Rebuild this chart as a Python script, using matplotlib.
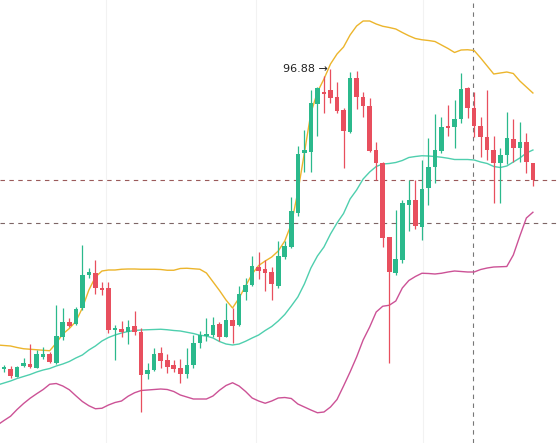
import numpy as np
import matplotlib
matplotlib.use('Agg')
import matplotlib.pyplot as plt

# candle data (price units)
opens = [84.88, 84.88, 84.57, 85.00, 85.07, 84.93, 85.37, 85.47, 85.13, 86.17,
         86.76, 86.68, 87.31, 88.64, 88.71, 88.13, 88.11, 86.44, 86.48, 86.35,
         86.59, 86.36, 84.67, 84.84, 85.51, 85.24, 85.03, 84.93, 84.68, 85.04,
         85.93, 86.20, 86.24, 86.68, 86.17, 86.84, 86.64, 87.97, 88.24, 88.95,
         88.88, 88.75, 88.20, 89.37, 89.75, 91.13, 93.51, 93.57, 95.48, 95.97,
         96.04, 95.77, 95.24, 94.37, 96.53, 95.75, 95.40, 93.64, 93.13, 90.15,
         88.73, 89.24, 91.44, 91.64, 90.57, 92.11, 92.95, 93.61, 94.60, 94.57,
         94.87, 96.11, 95.31, 94.60, 94.15, 93.64, 93.11, 93.44, 94.07, 93.71,
         93.97, 93.13]
highs = [85.04, 85.00, 85.00, 85.32, 85.88, 85.64, 85.77, 85.57, 87.44, 87.32,
         86.92, 87.36, 89.84, 88.92, 89.24, 88.37, 88.37, 86.64, 86.80, 86.84,
         87.20, 86.51, 85.11, 85.73, 85.77, 85.47, 85.24, 85.28, 85.71, 86.24,
         86.41, 86.91, 86.97, 86.76, 87.51, 87.31, 88.20, 88.51, 89.40, 89.57,
         89.24, 88.95, 90.00, 90.01, 91.77, 93.80, 94.44, 96.04, 96.17, 96.60,
         96.88, 96.37, 95.31, 96.77, 96.81, 95.97, 95.71, 93.97, 93.17, 90.17,
         91.24, 91.64, 92.44, 92.44, 93.24, 94.11, 95.08, 94.95, 95.44, 95.64,
         96.71, 96.16, 95.97, 94.97, 96.04, 94.20, 93.71, 95.17, 94.87, 94.77,
         94.31, 93.13]
lows = [84.76, 84.52, 84.54, 84.96, 84.92, 84.92, 85.28, 85.13, 85.08, 86.04,
        86.56, 86.64, 87.24, 88.52, 87.88, 87.84, 86.33, 85.24, 86.17, 85.88,
        86.24, 83.17, 84.47, 84.81, 84.91, 84.73, 84.77, 84.31, 84.51, 84.91,
        85.71, 86.01, 86.17, 86.01, 86.15, 85.93, 86.60, 87.64, 88.20, 88.47,
        88.01, 87.64, 88.11, 89.28, 89.71, 91.00, 92.77, 92.77, 94.20, 95.11,
        95.51, 95.11, 92.91, 94.31, 95.27, 94.97, 93.57, 92.44, 89.77, 85.11,
        88.64, 89.13, 90.41, 90.47, 90.04, 91.44, 92.31, 93.51, 94.20, 93.71,
        94.71, 94.91, 94.17, 93.37, 93.24, 91.53, 91.53, 93.08, 93.17, 93.17,
        92.71, 92.20]
closes = [84.96, 84.60, 84.97, 85.11, 84.96, 85.47, 85.48, 85.17, 86.20, 86.77,
          86.61, 87.28, 88.64, 88.77, 88.11, 88.04, 86.44, 86.48, 86.35, 86.55,
          86.37, 84.64, 84.84, 85.48, 85.21, 84.97, 84.89, 84.68, 85.04, 85.91,
          86.24, 86.28, 86.64, 86.15, 86.84, 86.61, 87.88, 88.24, 89.00, 88.81,
          88.73, 88.28, 89.40, 89.81, 91.20, 93.48, 93.64, 95.51, 96.11, 95.87,
          95.71, 95.21, 94.41, 96.53, 95.77, 95.40, 93.61, 93.13, 90.11, 88.77,
          89.27, 91.51, 91.64, 90.60, 92.07, 92.95, 93.64, 94.55, 94.53, 94.87,
          96.07, 95.31, 94.60, 94.15, 93.64, 93.11, 93.44, 94.11, 93.71, 93.97,
          93.17, 92.44]

# bollinger bands, first value belongs to the bar before the first visible candle
band_start = -1
upper = [85.84, 85.82, 85.80, 85.74, 85.69, 85.67, 85.65, 85.63, 85.61, 85.92,
         86.28, 86.50, 86.78, 87.32, 88.04, 88.56, 88.80, 88.84, 88.84, 88.87,
         88.88, 88.88, 88.87, 88.87, 88.87, 88.86, 88.83, 88.83, 88.90, 88.91,
         88.89, 88.87, 88.72, 88.37, 88.02, 87.64, 87.32, 87.72, 88.20, 88.68,
         89.02, 89.20, 89.36, 89.60, 90.00, 90.68, 91.96, 93.52, 95.12, 95.96,
         96.48, 97.08, 97.48, 97.76, 98.24, 98.60, 98.80, 98.80, 98.68, 98.59,
         98.54, 98.48, 98.34, 98.21, 98.10, 98.05, 98.02, 97.98, 97.84, 97.70,
         97.54, 97.64, 97.65, 97.62, 97.32, 97.00, 96.68, 96.72, 96.76, 96.70,
         96.40, 96.16, 95.92]
middle = [84.24, 84.32, 84.40, 84.50, 84.58, 84.66, 84.76, 84.84, 84.90, 85.00,
          85.08, 85.18, 85.32, 85.44, 85.64, 85.80, 86.00, 86.14, 86.24, 86.32,
          86.38, 86.42, 86.44, 86.45, 86.46, 86.47, 86.45, 86.42, 86.40, 86.35,
          86.30, 86.23, 86.20, 86.12, 85.98, 85.88, 85.84, 85.88, 85.99, 86.12,
          86.24, 86.42, 86.58, 86.80, 87.06, 87.40, 87.76, 88.28, 88.92, 89.40,
          89.76, 90.28, 90.72, 91.10, 91.68, 92.04, 92.48, 92.76, 92.98, 93.08,
          93.10, 93.14, 93.22, 93.34, 93.38, 93.41, 93.40, 93.38, 93.35, 93.31,
          93.26, 93.26, 93.26, 93.24, 93.16, 93.10, 92.98, 92.94, 93.00, 93.16,
          93.32, 93.52, 93.64]
lower = [82.64, 82.82, 82.99, 83.26, 83.50, 83.71, 83.89, 84.06, 84.27, 84.30,
         84.20, 84.05, 83.81, 83.58, 83.41, 83.29, 83.31, 83.44, 83.54, 83.60,
         83.79, 83.93, 84.02, 84.04, 84.06, 84.08, 84.06, 83.98, 83.84, 83.76,
         83.68, 83.68, 83.68, 83.80, 84.03, 84.22, 84.33, 84.20, 83.98, 83.72,
         83.60, 83.51, 83.60, 83.72, 83.74, 83.70, 83.48, 83.36, 83.24, 83.13,
         83.16, 83.36, 83.66, 84.20, 84.76, 85.36, 86.04, 86.56, 87.16, 87.39,
         87.43, 87.60, 88.12, 88.42, 88.58, 88.71, 88.70, 88.68, 88.71, 88.76,
         88.80, 88.78, 88.76, 88.76, 88.86, 88.92, 88.96, 88.97, 88.98, 89.44,
         90.20, 90.92, 91.15]

level_line = 90.72
crosshair_idx = 71.9

UP = '#2bb98c'
DOWN = '#e84f5e'

o = np.array(opens)
h = np.array(highs)
l = np.array(lows)
c = np.array(closes)
idx = np.arange(len(o))
up = c >= o

fig = plt.figure(figsize=(5.57, 4.43), dpi=100)
ax = fig.add_axes([0, 0, 1, 1])

# faint grid
for gx in [15.6, 38.6, 64.2]:
    ax.axvline(gx, color='#f2f2f2', lw=0.8, zorder=0)

# bands
bx = np.arange(band_start, band_start + len(upper))
ax.plot(bx, upper, color='#ecb52c', lw=1.0, zorder=2)
ax.plot(bx, middle, color='#4fcfae', lw=1.0, zorder=2)
ax.plot(bx, lower, color='#cc5296', lw=1.0, zorder=2)

# candles
colors = np.where(up, UP, DOWN)
ax.vlines(idx, l, h, colors=colors, lw=0.9, zorder=3)
body_lo = np.minimum(o, c)
body_h = np.maximum(np.abs(c - o), 0.06)
ax.bar(idx, body_h, bottom=body_lo, width=0.7, color=colors, linewidth=0, zorder=4)

# last price / level / crosshair lines
ax.axhline(closes[-1], color='#9a5a5a', lw=0.8, ls=(0, (4, 4)), zorder=1)
ax.axhline(level_line, color='#7d6565', lw=0.8, ls=(0, (4, 4)), zorder=1)
ax.axvline(crosshair_idx, color='#777777', lw=0.8, ls=(0, (4, 4)), zorder=1)

# max high label
imax = int(np.argmax(h))
ax.text(imax - 0.35, h[imax], '96.88 \u2192', ha='right', va='center',
        fontsize=8, color='#222222', family='DejaVu Sans', zorder=5)

ax.set_xlim(-0.613, 84.69)
ax.set_ylim(81.92, 99.64)
ax.axis('off')

fig.savefig('out.png', dpi=100, facecolor='white')
